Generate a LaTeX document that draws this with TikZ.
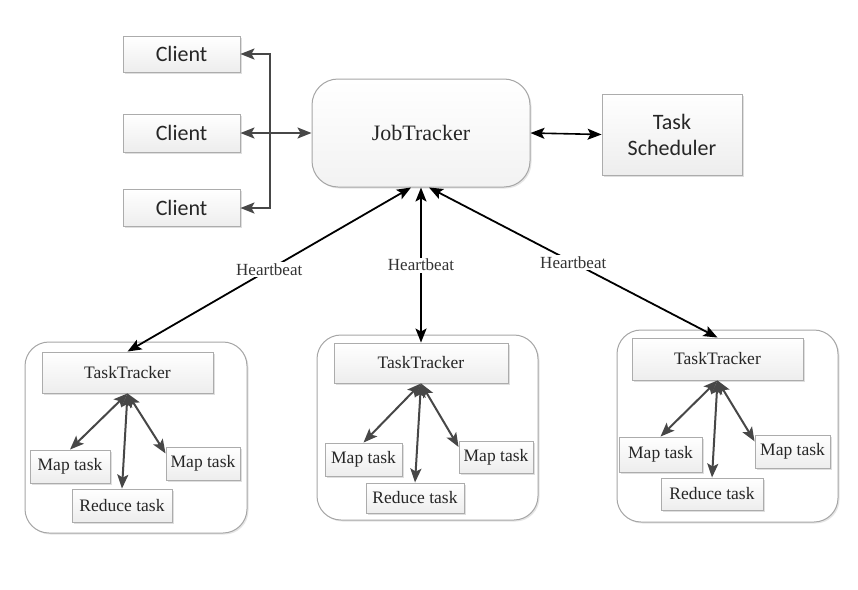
\documentclass[tikz,border=0pt]{standalone}
\usepackage{fontspec}
\setmainfont{Liberation Serif}
\newfontfamily\calib{Carlito}
\usetikzlibrary{arrows.meta,shadows}
\begin{document}
\begin{tikzpicture}[x=1pt,y=-1pt,
  box/.style={draw=gray!65, line width=0.9pt, top color=white, bottom color=gray!14,
    drop shadow={opacity=0.25, shadow xshift=1.5pt, shadow yshift=-1.5pt}, inner sep=0pt},
  cbox/.style={box, font=\calib\fontsize{22}{26}\selectfont, text=black!85, align=center},
  sbox/.style={box, font=\fontsize{17.5}{20}\selectfont, text=black!85},
  cont/.style={draw=gray!70, line width=1pt, rounded corners=24pt, fill=white,
    drop shadow={opacity=0.2, shadow xshift=1.5pt, shadow yshift=-1.5pt}},
  tip/.style={Stealth[length=14pt,width=11pt,inset=3pt]},
  darr/.style={draw=black!72, line width=2pt, {Stealth[length=14pt,width=11pt,inset=3pt]}-{Stealth[length=14pt,width=11pt,inset=3pt]}},
  harr/.style={draw=black, line width=1.8pt, {Stealth[length=14pt,width=11pt,inset=3pt]}-{Stealth[length=14pt,width=11pt,inset=3pt]}},
  hb/.style={fill=white, inner sep=1.5pt, text=black!80, font=\fontsize{17}{20}\selectfont}
]
\useasboundingbox[fill=white] (0,0) rectangle (858,589);

% clients
\node[cbox, minimum width=117pt, minimum height=36pt] (c1) at (181.5,54) {Client};
\node[cbox, minimum width=117pt, minimum height=38pt] (c2) at (181.5,133) {Client};
\node[cbox, minimum width=117pt, minimum height=37pt] (c3) at (181.5,208) {Client};

% JobTracker
\node[draw=gray!70, line width=1pt, rounded corners=26pt, top color=white, bottom color=gray!10,
  drop shadow={opacity=0.2, shadow xshift=1.5pt, shadow yshift=-1.5pt},
  minimum width=218pt, minimum height=108pt, text=black!85, font=\fontsize{22}{26}\selectfont] (jt) at (421,133) {JobTracker};

% Task Scheduler
\node[cbox, minimum width=140pt, minimum height=81pt] (ts) at (672,134.5) {Task\\Scheduler};

% bus
\coordinate (b1) at (270,54);
\coordinate (b3) at (270,208);
\draw[darr] (c1.east) -- (b1) -- (b3) -- (c3.east);
\draw[darr] (c2.east) -- (jt.west);
\draw[harr, line width=1.6pt] (jt.east) -- (ts.west);

% containers
\node[cont, minimum width=222pt, minimum height=191pt] (k1) at (136,437.5) {};
\node[cont, minimum width=221pt, minimum height=185pt] (k2) at (427.5,427.5) {};
\node[cont, minimum width=221pt, minimum height=192pt] (k3) at (727.5,426) {};

% container 1
\node[sbox, minimum width=171pt, minimum height=41pt] (tt1) at (127.5,372.5) {TaskTracker};
\node[sbox, minimum width=80pt, minimum height=33pt] (lm1) at (70,466.5) {Map task};
\node[sbox, minimum width=74pt, minimum height=33pt] (rm1) at (203,463.5) {Map task};
\node[sbox, minimum width=100pt, minimum height=33pt] (rd1) at (122,505.5) {Reduce task};

% container 2
\node[sbox, minimum width=174pt, minimum height=40pt] (tt2) at (421,363) {TaskTracker};
\node[sbox, minimum width=77pt, minimum height=33pt] (lm2) at (363.5,459.5) {Map task};
\node[sbox, minimum width=74pt, minimum height=32pt] (rm2) at (496,457) {Map task};
\node[sbox, minimum width=98pt, minimum height=30pt] (rd2) at (415,498) {Reduce task};

% container 3
\node[sbox, minimum width=171pt, minimum height=42pt] (tt3) at (717.5,359) {TaskTracker};
\node[sbox, minimum width=83pt, minimum height=35pt] (lm3) at (660.5,454.5) {Map task};
\node[sbox, minimum width=75pt, minimum height=33pt] (rm3) at (792.5,451.5) {Map task};
\node[sbox, minimum width=102pt, minimum height=32pt] (rd3) at (712,494) {Reduce task};

% heartbeat arrows
\draw[harr] ([xshift=-10pt]jt.south) -- node[hb]{Heartbeat} (tt1.north);
\draw[harr] (jt.south) -- node[hb, pos=0.5]{Heartbeat} (tt2.north);
\draw[harr] ([xshift=8pt]jt.south) -- node[hb]{Heartbeat} (tt3.north);

% internal arrows
\draw[darr] (tt1.south) -- (lm1.north);
\draw[darr] (tt1.south) -- (rd1.north);
\draw[darr] (tt1.south) -- (rm1.165);
\draw[darr] (tt2.south) -- (lm2.north);
\draw[darr] (tt2.south) -- (rd2.north);
\draw[darr] (tt2.south) -- (rm2.165);
\draw[darr] (tt3.south) -- (lm3.north);
\draw[darr] (tt3.south) -- (rd3.north);
\draw[darr] (tt3.south) -- (rm3.165);
\end{tikzpicture}
\end{document}
